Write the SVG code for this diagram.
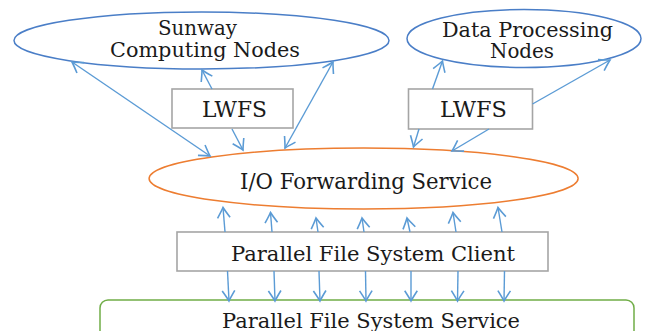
<svg xmlns="http://www.w3.org/2000/svg" width="648" height="331" viewBox="0 0 648 331">
<style>
.c{fill:none;stroke:#5B9BD5;stroke-width:1.4;marker-end:url(#ah)}
.b{marker-start:url(#ah)}
.box{fill:#fff;stroke:#A5A5A5;stroke-width:1.6}
</style>
<defs>
<marker id="ah" markerUnits="userSpaceOnUse" markerWidth="16" markerHeight="16" viewBox="-10 -7 12 14" refX="0" refY="0" orient="auto-start-reverse">
<path d="M-9,-5.5 Q-2.5,-1.3 0,0 Q-2.5,1.3 -9,5.5" fill="none" stroke="#5B9BD5" stroke-width="1.4"/>
</marker>
</defs>
<g font-family="DejaVu Serif, Liberation Serif, serif" fill="#1a1a1a">
<g id="sunway">
<ellipse cx="201.5" cy="40.5" rx="187.5" ry="28.5" fill="#fff" stroke="#4A7EC7" stroke-width="1.5"/>
<text x="158" y="34.5" font-size="20" textLength="79" lengthAdjust="spacingAndGlyphs">Sunway</text>
<text x="110" y="56.5" font-size="20" textLength="190" lengthAdjust="spacingAndGlyphs">Computing Nodes</text>
</g>
<g id="data">
<ellipse cx="524" cy="38.5" rx="117" ry="29" fill="#fff" stroke="#4A7EC7" stroke-width="1.5"/>
<text x="442" y="37" font-size="20" textLength="171" lengthAdjust="spacingAndGlyphs">Data Processing</text>
<text x="490" y="58" font-size="20" textLength="64" lengthAdjust="spacingAndGlyphs">Nodes</text>
</g>
<g id="lwfs1">
<rect class="box" x="172" y="89" width="121" height="39"/>
<text x="202" y="116.7" font-size="22" textLength="65" lengthAdjust="spacingAndGlyphs">LWFS</text>
</g>
<g id="lwfs2">
<rect class="box" x="408.5" y="89" width="124" height="40"/>
<text x="440" y="116.7" font-size="22" textLength="67" lengthAdjust="spacingAndGlyphs">LWFS</text>
</g>
<g id="io">
<ellipse cx="363.6" cy="178.5" rx="214.5" ry="30.5" fill="#fff" stroke="#ED7D31" stroke-width="1.5"/>
<text x="240" y="188.5" font-size="22" textLength="252" lengthAdjust="spacingAndGlyphs">I/O Forwarding Service</text>
</g>
<g id="client">
<rect class="box" x="177" y="232" width="371" height="39"/>
<text x="231" y="260.7" font-size="21" textLength="284" lengthAdjust="spacingAndGlyphs">Parallel File System Client</text>
</g>
<g id="service">
<rect x="100" y="300" width="534" height="60" rx="8" ry="8" fill="#fff" stroke="#70AD47" stroke-width="1.5"/>
<text x="222" y="327.5" font-size="21" textLength="298" lengthAdjust="spacingAndGlyphs">Parallel File System Service</text>
</g>
</g>
<g id="connectors">
<path class="c b" d="M72,62 L210,156"/>
<path class="c" d="M212,89 L202,70"/>
<path class="c" d="M232,129 L243,150"/>
<path class="c b" d="M333,62 L285,148"/>
<path class="c" d="M432.5,89 L442.5,61"/>
<path class="c" d="M532.5,104 L610,60"/>
<path class="c" d="M419,129 L413.5,147"/>
<path class="c" d="M489,129 L452,151"/>
<path class="c" d="M225,232 L223,207.5"/>
<path class="c" d="M272,232 L270.5,212.5"/>
<path class="c" d="M318,232 L316,218"/>
<path class="c" d="M364,232 L362,218"/>
<path class="c" d="M410,232 L407,218"/>
<path class="c" d="M456,232 L453,212.5"/>
<path class="c" d="M502,232 L498,207.5"/>
<path class="c" d="M227.5,271 L229,301"/>
<path class="c" d="M274,271 L275,301"/>
<path class="c" d="M319,271 L320,301"/>
<path class="c" d="M365.5,271 L366,301"/>
<path class="c" d="M411,271 L411,301"/>
<path class="c" d="M458,271 L457.5,301"/>
<path class="c" d="M504.5,271 L504,301"/>
</g>
</svg>
